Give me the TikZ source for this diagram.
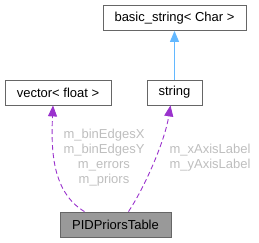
\documentclass[tikz,border=0pt]{standalone}
\usepackage{fontspec}
\setmainfont{Liberation Sans}
\usetikzlibrary{arrows.meta,positioning}
\definecolor{edgepurple}{HTML}{9A32CD}
\definecolor{edgeblue}{HTML}{63B8FF}
\definecolor{boxgray}{HTML}{666666}
\definecolor{labelgray}{HTML}{BEBEBE}
\definecolor{tablefill}{HTML}{999999}

\begin{document}
\begin{tikzpicture}[
        x=1bp, y=-1bp,
        box/.style={draw=boxgray, fill=white, line width=0.8bp, minimum height=25bp, inner sep=0pt, font=\fontsize{13bp}{15bp}\selectfont},
        member/.style={draw=edgepurple, line width=0.9bp, dashed, dash pattern=on 5bp off 3bp, -{Triangle[length=11bp, width=9bp, fill=edgepurple]}},
        inherit/.style={draw=edgeblue, line width=0.9bp, -{Triangle[length=11bp, width=9bp, fill=edgeblue]}},
        edgelabel/.style={text=labelgray, align=center, inner sep=0pt, font=\fontsize{13bp}{14.8bp}\selectfont},
    ]
        \useasboundingbox (0,0) rectangle (259,243);

        % Classes
        \node[box, minimum width=143bp] (basic) at (174.5, 18) {basic\_string< Char >};
        \node[box, minimum width=106bp] (vec) at (58, 92.5) {vector< float >};
        \node[box, minimum width=55bp] (str) at (174.5, 92.5) {string};
        \node[box, minimum width=111bp, fill=tablefill] (tbl) at (115.5, 224.5) {PIDPriorsTable};

        % Inheritance
        \draw[inherit] (str) -- (basic);

        % Members
        \draw[member] ([xshift=-31bp]tbl.north) .. controls (52, 192) and (51, 150) .. ([xshift=-5bp]vec.south);
        \draw[member] ([xshift=13bp]tbl.north) .. controls (146, 185) and (165, 140) .. ([xshift=-4bp]str.south);

        % Labels
        \node[edgelabel] (veclabel) at (104, 157.5) {m\_binEdgesX\\m\_binEdgesY\\m\_errors\\m\_priors};
        \node[edgelabel] (strlabel) at (210, 157.5) {m\_xAxisLabel\\m\_yAxisLabel};
    \end{tikzpicture}
\end{document}
